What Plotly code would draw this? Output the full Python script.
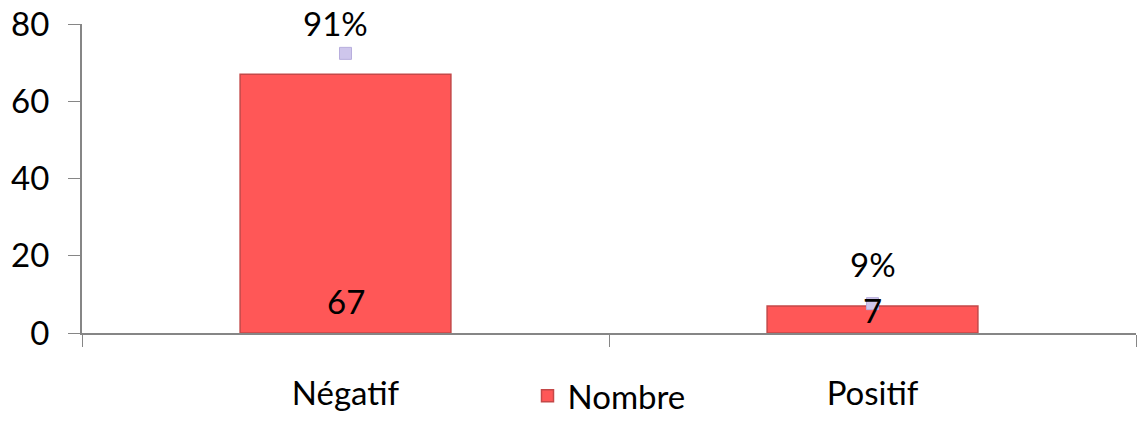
import plotly.graph_objects as go

categories = ["Négatif", "Positif"]
nombre = [67, 7]
percent = [90.5, 9.5]
percent_labels = ["91%", "9%"]

FONT = "Lato"
FS = 33
fig = go.Figure()
fig.add_trace(go.Bar(
    x=categories, y=nombre, name="Nombre",
    marker=dict(color="#FF5757", line=dict(color="#C44848", width=1.5)),
    width=0.40,
))
fig.add_trace(go.Scatter(
    x=categories, y=percent, yaxis="y2", mode="markers",
    marker=dict(symbol="square", size=12, color="#CEC6EC", line=dict(color="#B8AEDD", width=1)),
    showlegend=False, cliponaxis=False,
))
annotations = []
for c, v, s in zip(categories, nombre, [32, 23]):
    annotations.append(dict(x=c, y=0, xref="x", yref="y", text=str(v), showarrow=False,
                            yanchor="middle", yshift=s,
                            font=dict(size=FS, color="black", family=FONT)))
for c, p, t, s, dx in zip(categories, percent, percent_labels, [30, 40], [-10, 0]):
    annotations.append(dict(x=c, y=p, xref="x", yref="y2", text=t, showarrow=False,
                            yanchor="middle", yshift=s, xshift=dx,
                            font=dict(size=FS, color="black", family=FONT)))
fig.update_layout(
    width=1138, height=424,
    margin=dict(l=82, r=2, t=24, b=90),
    paper_bgcolor="white", plot_bgcolor="white",
    font=dict(family=FONT, size=FS, color="black"),
    annotations=annotations,
    xaxis=dict(
        type="category", tickson="boundaries", ticks="outside", ticklen=12,
        tickcolor="#868686", showline=True, linecolor="#868686", linewidth=2,
        showgrid=False, tickfont=dict(size=FS, family=FONT), ticklabelstandoff=30,
        automargin=False,
    ),
    yaxis=dict(
        range=[0, 80], tickvals=[0, 20, 40, 60, 80], ticks="outside", ticklen=12,
        tickcolor="#868686", showline=True, linecolor="#868686", linewidth=2,
        showgrid=False, zeroline=False, tickfont=dict(size=FS, family=FONT),
        ticklabelstandoff=12, automargin=False,
    ),
    yaxis2=dict(range=[0, 100], overlaying="y", visible=False),
    legend=dict(orientation="h", x=0.5, xanchor="center", y=-0.29, yanchor="bottom",
                font=dict(size=FS, family=FONT)),
)
fig.write_html("out.html")
